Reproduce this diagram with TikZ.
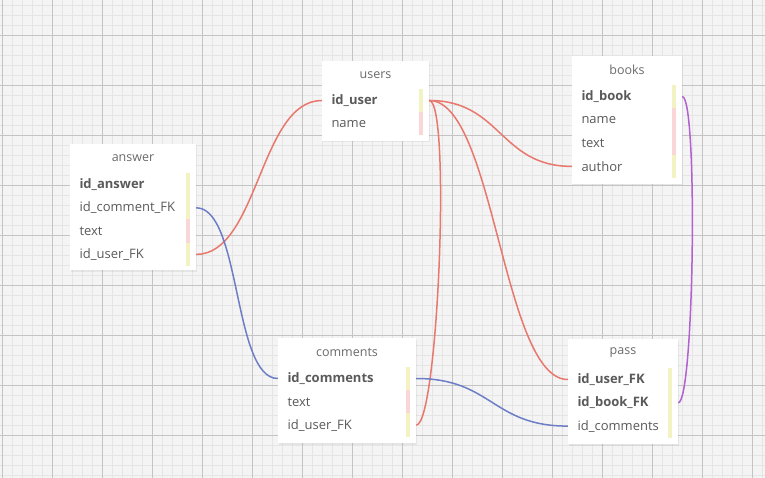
\documentclass[tikz,border=0pt]{standalone}
\usepackage{fontspec}
\setmainfont{Open Sans}
\usetikzlibrary{shadows}
\definecolor{bg}{HTML}{F4F4F4}
\definecolor{minorc}{HTML}{E5E5E5}
\definecolor{majorc}{HTML}{C4C4C4}
\definecolor{titlec}{HTML}{6A6A6A}
\definecolor{rowc}{HTML}{5A5A5A}
\definecolor{bary}{HTML}{F2F2C2}
\definecolor{barp}{HTML}{FAD6D6}
\definecolor{relred}{HTML}{E8786E}
\definecolor{relblue}{HTML}{6E7EC6}
\definecolor{relpurple}{HTML}{B062D0}
\newcommand{\dbrow}[7]{%
  \pgfmathsetmacro\dbtw{#3-19}%
  \fill[#7] ({#2+#3-10},{#4-11.65}) rectangle ({#2+#3-6.5},{#4+11.65});
  \node[rowtext, text width=\dbtw pt, font=#6] (#1) at ({#2+#3/2},#4) {#5};
}
\newcommand{\dbbox}[6]{% name, x, y, w, h, title
  \node[tablebox, minimum width=#4pt, minimum height=#5pt] (#1) at ({#2+#4/2},{#3+#5/2}) {};
  \node[titletext] (#1-title) at ({#2+#4/2},{#3+14}) {#6};
}
\tikzset{
  minorline/.style={draw=minorc, line width=0.75pt},
  majorline/.style={draw=majorc, line width=0.9pt},
  tablebox/.style={fill=white, inner sep=0pt, drop shadow={opacity=0.12, shadow xshift=1pt, shadow yshift=-1.5pt}},
  titletext/.style={text=titlec, font=\fontsize{12.5}{14}\selectfont, inner sep=0pt},
  rowtext/.style={text=rowc, inner xsep=9.5pt, inner ysep=0pt, align=left, minimum height=23pt},
  rel/.style={line width=1.5pt},
}
\newcommand{\rf}{\fontsize{13}{15}\selectfont}
\newcommand{\rb}{\fontsize{13}{15}\selectfont\bfseries}
\begin{document}
\begin{tikzpicture}[x=1pt, y=-1pt]
\useasboundingbox (0,0) rectangle (765,478);
\fill[bg] (0,0) rectangle (765,478);
\foreach \x in {2,12,...,762} \draw[minorline] (\x,0) -- (\x,478);
\foreach \y in {5,15,...,475} \draw[minorline] (0,\y) -- (765,\y);
\foreach \x in {2,52,...,752} \draw[majorline] (\x,0) -- (\x,478);
\foreach \y in {35,85,...,435} \draw[majorline] (0,\y) -- (765,\y);

% answer
\dbbox{answer}{70}{144}{126}{126}{answer}
\dbrow{answer-id}{70}{126}{184.5}{id\_answer}{\rb}{bary}
\dbrow{answer-comment}{70}{126}{207.8}{id\_comment\_FK}{\rf}{bary}
\dbrow{answer-text}{70}{126}{231.1}{text}{\rf}{barp}
\dbrow{answer-user}{70}{126}{254.4}{id\_user\_FK}{\rf}{bary}

% users
\dbbox{users}{322}{61}{107}{80}{users}
\dbrow{users-id}{322}{107}{100.5}{id\_user}{\rb}{bary}
\dbrow{users-name}{322}{107}{123.8}{name}{\rf}{barp}

% books
\dbbox{books}{572}{56}{110}{128}{books}
\dbrow{books-id}{572}{110}{96.5}{id\_book}{\rb}{bary}
\dbrow{books-name}{572}{110}{119.8}{name}{\rf}{barp}
\dbrow{books-text}{572}{110}{143.1}{text}{\rf}{barp}
\dbrow{books-author}{572}{110}{166.4}{author}{\rf}{bary}

% comments
\dbbox{comments}{278}{338}{138}{105}{comments}
\dbrow{comments-id}{278}{138}{378.5}{id\_comments}{\rb}{bary}
\dbrow{comments-text}{278}{138}{401.8}{text}{\rf}{barp}
\dbrow{comments-user}{278}{138}{425.1}{id\_user\_FK}{\rf}{bary}

% pass
\dbbox{pass}{568}{339}{110}{105}{pass}
\dbrow{pass-user}{568}{110}{379.5}{id\_user\_FK}{\rb}{bary}
\dbrow{pass-book}{568}{110}{402.8}{id\_book\_FK}{\rb}{bary}
\dbrow{pass-comments}{568}{110}{426.1}{id\_comments}{\rf}{bary}

% relations
\draw[rel, relred] (answer-user.east) .. controls +(62,0) and +(-62,0) .. (users-id.west);
\draw[rel, relblue] (answer-comment.east) .. controls +(45,0) and +(-45,0) .. (comments-id.west);
\draw[rel, relred] (users-id.east) .. controls +(72,0) and +(-72,0) .. (books-author.west);
\draw[rel, relred] (users-id.east) .. controls +(22,0) and +(22,0) .. (comments-user.east);
\draw[rel, relred] (users-id.east) .. controls +(65,0) and +(-65,0) .. (pass-user.west);
\draw[rel, relblue] (comments-id.east) .. controls +(76,0) and +(-76,0) .. (pass-comments.west);
\draw[rel, relpurple] (books-id.east) .. controls +(16,0) and +(16,0) .. (pass-book.east);
\end{tikzpicture}
\end{document}
